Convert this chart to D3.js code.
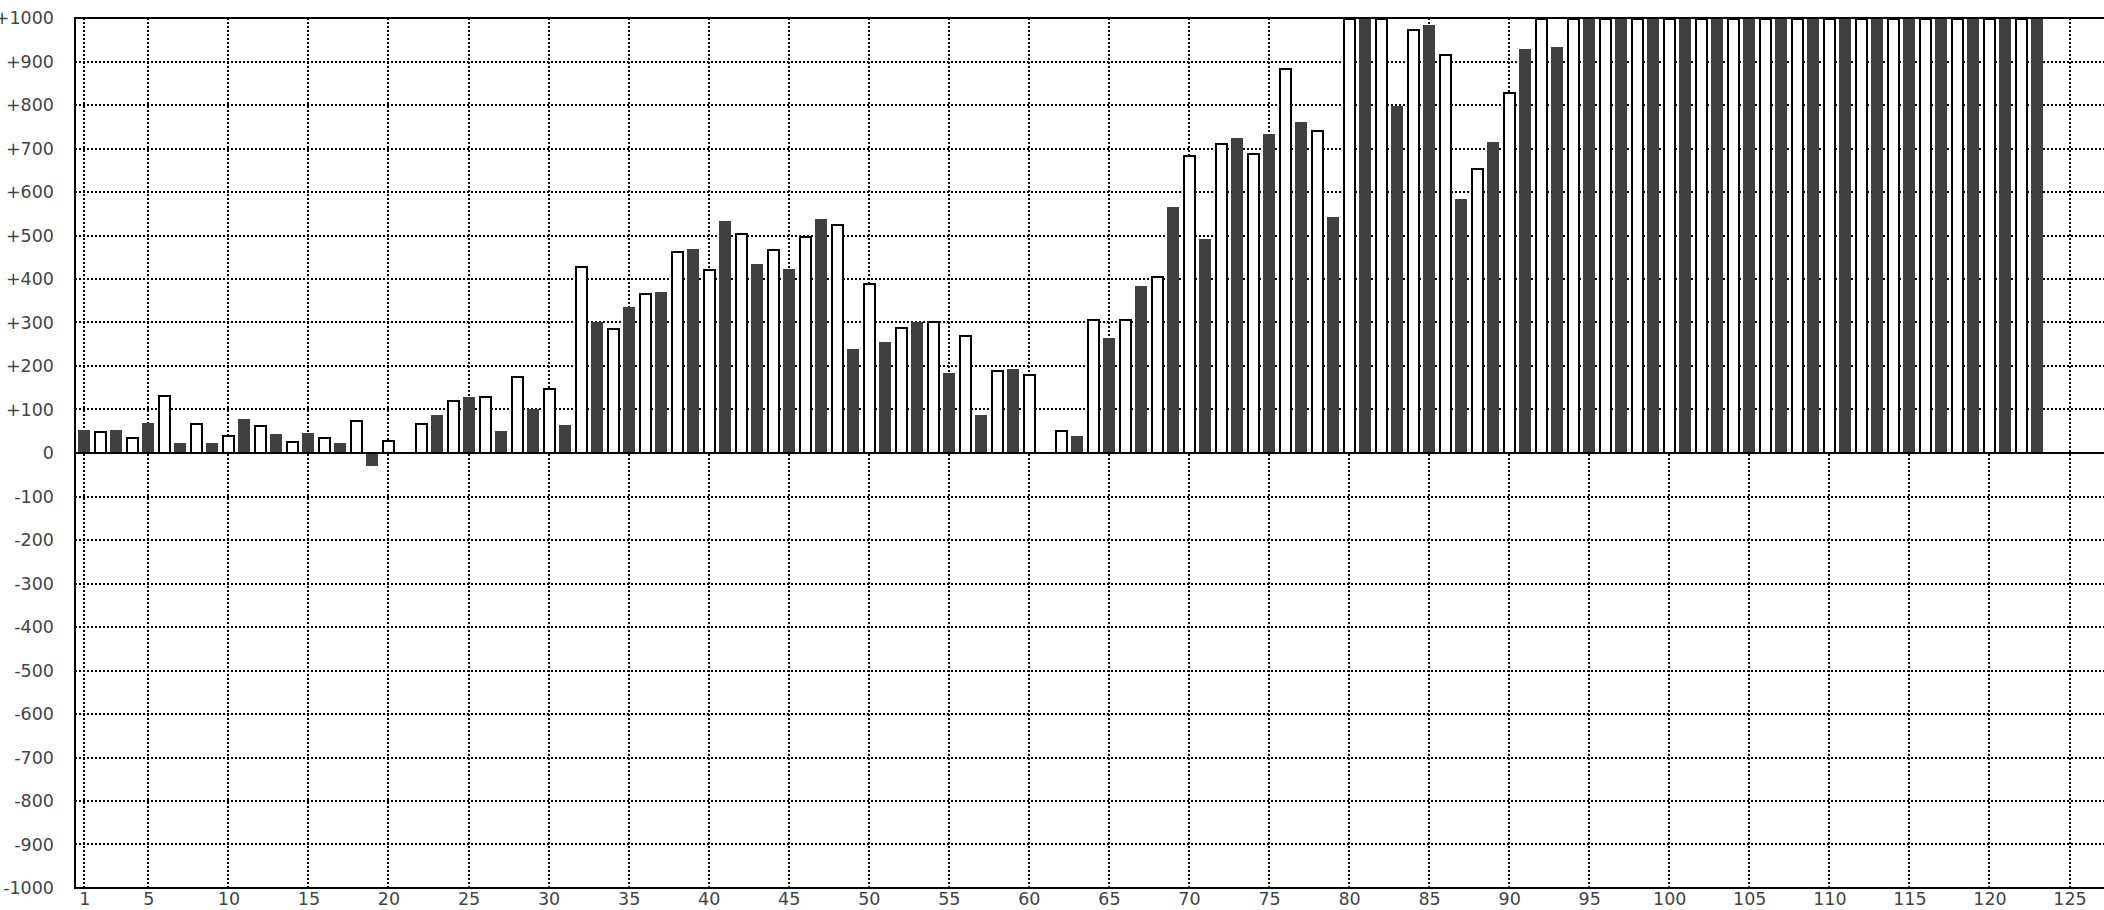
<!DOCTYPE html>
<html>
<head>
<meta charset="utf-8">
<script src="https://cdn.jsdelivr.net/npm/d3@7"></script>
<style>
  html, body { margin: 0; padding: 0; background: #fff; }
  svg { display: block; }
</style>
</head>
<body>
<svg id="chart" width="2104" height="910"></svg>
<script>
// ---- data ----
const categories = [1,2,3,4,5,6,7,8,9,10,11,12,13,14,15,16,17,18,19,20,
  21,22,23,24,25,26,27,28,29,30,31,32,33,34,35,36,37,38,39,40,
  41,42,43,44,45,46,47,48,49,50,51,52,53,54,55,56,57,58,59,60,
  61,62,63,64,65,66,67,68,69,70,71,72,73,74,75,76,77,78,79,80,
  81,82,83,84,85,86,87,88,89,90,91,92,93,94,95,96,97,98,99,100,
  101,102,103,104,105,106,107,108,109,110,111,112,113,114,115,116,117,118,119,120,
  121,122,123];
const values = [52,50,52,36,70,133,24,68,24,41,79,64,43,27,47,36,24,77,-31,31,
  0,70,88,122,129,131,50,177,102,150,64,431,302,287,336,367,369,464,470,423,
  534,505,434,468,424,498,538,526,238,390,256,290,302,304,183,272,87,190,192,181,
  0,52,40,308,265,308,383,408,565,684,492,712,724,689,733,884,761,743,542,1000,
  1000,1000,797,975,983,917,583,655,715,830,929,1000,933,1000,1000,1000,1000,1000,1000,1000,
  1000,1000,1000,1000,1000,1000,1000,1000,1000,1000,1000,1000,1000,1000,1000,1000,1000,1000,1000,1000,
  1000,1000,1000];
// series style: odd index = dark, even index = outlined white
const seriesNames = ["dark", "light"];
const xTickValues = [1,5,10,15,20,25,30,35,40,45,50,55,60,65,70,75,80,85,90,95,100,105,110,115,120,125];
const yTickValues = [-1000,-900,-800,-700,-600,-500,-400,-300,-200,-100,0,100,200,300,400,500,600,700,800,900,1000];

// ---- layout ----
const W = 2104, H = 910;
const plotLeft = 75, plotTop = 18, plotBottom = 888, plotRight = W;
const x = d3.scaleLinear().domain([0, 125]).range([68.3, 2069.5]);
const y = d3.scaleLinear().domain([-1000, 1000]).range([plotBottom, plotTop]);
const X = v => Math.round(x(v));
const Y = v => Math.round(y(v));
const barW = 12;

const svg = d3.select("#chart");

// grid
const grid = svg.append("g");
grid.selectAll("line.h").data(yTickValues.filter(v => Math.abs(v) !== 1000 && v !== 0))
  .join("line").attr("class","h")
  .attr("x1", plotLeft).attr("x2", plotRight)
  .attr("y1", d => Y(d)).attr("y2", d => Y(d))
  .attr("stroke", "#000").attr("stroke-width", 2).attr("stroke-dasharray", "2,2");
grid.selectAll("line.v").data(xTickValues)
  .join("line").attr("class","v")
  .attr("x1", d => X(d)).attr("x2", d => X(d))
  .attr("y1", plotTop).attr("y2", plotBottom)
  .attr("stroke", "#000").attr("stroke-width", 2).attr("stroke-dasharray", "2,2");

// bars
const data = categories.map((c, i) => ({ c, v: values[i], s: c % 2 === 1 ? seriesNames[0] : seriesNames[1] }));
const bars = svg.append("g");
bars.selectAll("rect.dark").data(data.filter(d => d.s === "dark" && d.v !== 0))
  .join("rect").attr("class","dark")
  .attr("x", d => X(d.c) - barW / 2)
  .attr("width", barW)
  .attr("y", d => Math.min(Y(d.v), Y(0)))
  .attr("height", d => Math.abs(Y(d.v) - Y(0)))
  .attr("fill", "#404040");
bars.selectAll("rect.light").data(data.filter(d => d.s === "light" && d.v !== 0))
  .join("rect").attr("class","light")
  .attr("x", d => X(d.c) - barW / 2 + 1)
  .attr("width", barW - 1)
  .attr("y", d => Math.min(Y(d.v), Y(0)) + 1)
  .attr("height", d => Math.abs(Y(d.v) - Y(0)) - 1)
  .attr("fill", "#fff").attr("stroke", "#000").attr("stroke-width", 2);

// frame lines
const frame = svg.append("g").attr("stroke", "#000").attr("stroke-width", 2);
frame.append("line").attr("x1", plotLeft).attr("x2", plotRight).attr("y1", Y(1000)).attr("y2", Y(1000));
frame.append("line").attr("x1", plotLeft).attr("x2", plotRight).attr("y1", Y(-1000)).attr("y2", Y(-1000));
frame.append("line").attr("x1", plotLeft).attr("x2", plotRight).attr("y1", Y(0)).attr("y2", Y(0));
frame.append("line").attr("x1", plotLeft).attr("x2", plotLeft).attr("y1", plotTop - 1).attr("y2", plotBottom + 1);

// axes labels
const fmtY = v => v > 0 ? "+" + v : (v < 0 ? "-" + Math.abs(v) : "0");
const yAxis = svg.append("g").attr("transform", "translate(54,0)")
  .call(d3.axisLeft(y).tickValues(yTickValues).tickSize(0).tickPadding(0).tickFormat(fmtY));
const xAxis = svg.append("g").attr("transform", `translate(0,${plotBottom})`)
  .call(d3.axisBottom(x).tickValues(xTickValues).tickSize(0).tickPadding(5).tickFormat(d3.format("d")));
[yAxis, xAxis].forEach(a => {
  a.select(".domain").remove();
  a.selectAll("text").attr("font-family", "'DejaVu Sans', sans-serif").attr("font-size", 17.5).attr("fill", "#444");
});
</script>
</body>
</html>
